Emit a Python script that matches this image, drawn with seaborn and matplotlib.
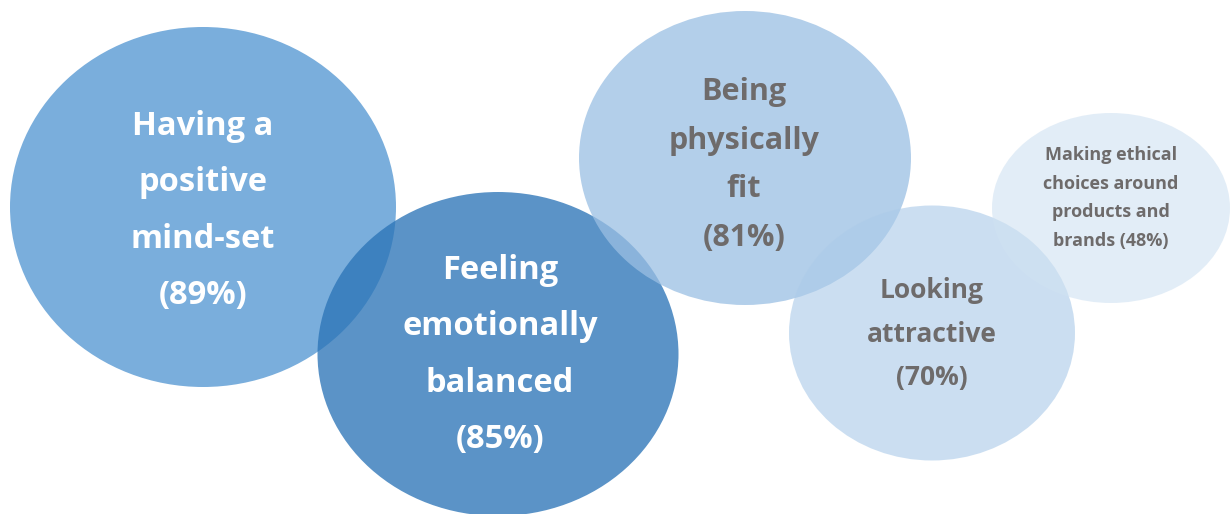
import matplotlib.pyplot as plt
import seaborn as sns
from matplotlib.patches import Ellipse

# data
labels = ['Having a\npositive\nmind-set', 'Feeling\nemotionally\nbalanced',
          'Being\nphysically\nfit', 'Looking\nattractive',
          'Making ethical\nchoices around\nproducts and\nbrands']
values = [89, 85, 81, 70, 48]

# layout (pixels)
cx = [203, 498, 745, 932, 1111]
cy = [207, 354, 158, 333, 208]
w = [386, 361, 332, 286, 238]
h = [360, 324, 294, 255, 190]
fills = [(122/255, 174/255, 220/255), (43/255, 116/255, 183/255), (154/255, 191/255, 227/255),
         (172/255, 203/255, 233/255), (208/255, 226/255, 242/255)]
alphas = [1.0, 0.774, 0.75, 0.62, 0.6]
txt_col = ['white', 'white', '#6e6b6b', '#6e6b6b', '#6e6b6b']
fsize = [23.5, 23.5, 22, 19, 13]
lspace = [1.94, 1.94, 1.82, 1.8, 1.75]
ty = [211, 355, 165, 334, 198]
tx = [203, 500, 744, 932, 1111]

sns.set_theme(style='white')
plt.rcParams['font.family'] = ['Open Sans', 'DejaVu Sans']

fig = plt.figure(figsize=(12.3, 5.14), dpi=100)
ax = fig.add_axes([0, 0, 1, 1])
ax.set_xlim(0, 1230)
ax.set_ylim(514, 0)
ax.axis('off')

for i in range(len(values)):
    ax.add_patch(Ellipse((cx[i], cy[i]), w[i], h[i], facecolor=fills[i],
                         alpha=alphas[i], edgecolor='none', zorder=i))

for i in range(len(values)):
    if i == 4:
        s = labels[i] + ' (%d%%)' % values[i]
    else:
        s = labels[i] + '\n(%d%%)' % values[i]
    ax.text(tx[i], ty[i], s, ha='center', va='center', color=txt_col[i],
            fontsize=fsize[i], fontweight='bold', linespacing=lspace[i], zorder=10)

plt.savefig('out.png', dpi=100)
